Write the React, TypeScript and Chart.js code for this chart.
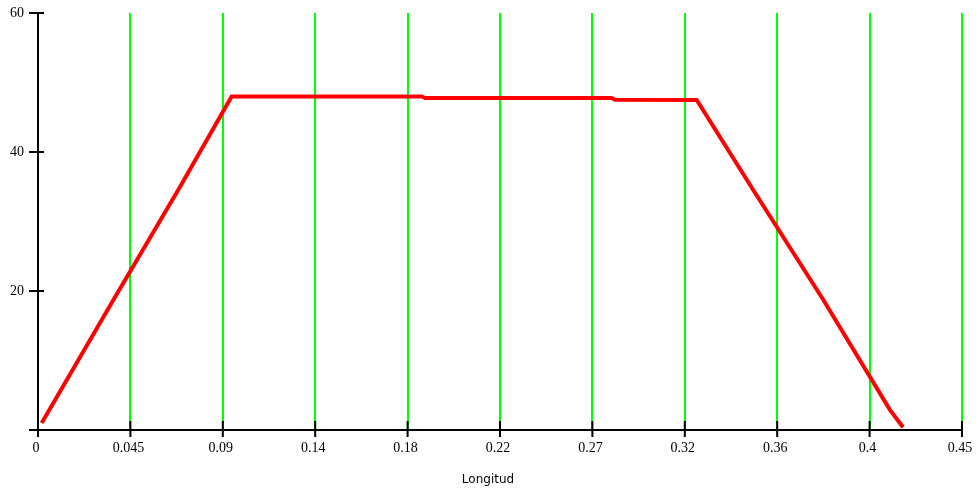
import React, { useEffect, useRef } from "react";
import { Chart, registerables } from "chart.js";

Chart.register(...registerables);

// Data
const xValues = [0.0018, 0.0359, 0.0692, 0.0943, 0.1869, 0.1885, 0.2794, 0.281, 0.3208, 0.3484, 0.3825, 0.4149, 0.4213];
const yValues = [1.0, 18.3, 35.0, 47.98, 47.98, 47.77, 47.77, 47.53, 47.48, 34.5, 18.7, 2.9, 0.4];

const xTicks = [0, 0.045, 0.09, 0.135, 0.18, 0.225, 0.27, 0.315, 0.36, 0.405, 0.45];
const xTickLabels = ["0", "0.045", "0.09", "0.14", "0.18", "0.22", "0.27", "0.32", "0.36", "0.4", "0.45"];
const yTicks = [0, 20, 40, 60];
const yTickLabels = ["", "20", "40", "60"];
const xTitle = "Longitud";

const axesPlugin = {
  id: "mcadAxes",
  beforeDatasetsDraw(chart: any) {
    const { ctx } = chart;
    const xs = chart.scales.x;
    const ys = chart.scales.y;
    const x0 = xs.getPixelForValue(0);
    const y0 = ys.getPixelForValue(0);
    const xEnd = xs.getPixelForValue(xTicks[xTicks.length - 1]);
    const yTop = ys.getPixelForValue(yTicks[yTicks.length - 1]);
    ctx.save();
    ctx.strokeStyle = "#000";
    ctx.lineWidth = 2;
    ctx.beginPath();
    ctx.moveTo(x0 - 9, y0);
    ctx.lineTo(xEnd + 1, y0);
    ctx.moveTo(x0, yTop - 1);
    ctx.lineTo(x0, y0 + 7);
    xTicks.forEach((v) => {
      const px = xs.getPixelForValue(v);
      ctx.moveTo(px, y0 - 9);
      ctx.lineTo(px, y0 + 7);
    });
    yTicks.forEach((v) => {
      if (v === 0) return;
      const py = ys.getPixelForValue(v);
      ctx.moveTo(x0 - 9, py);
      ctx.lineTo(x0 + 6, py);
    });
    ctx.stroke();
    ctx.restore();
  },
  afterDraw(chart: any) {
    const { ctx } = chart;
    ctx.save();
    ctx.fillStyle = "#000";
    ctx.font = "12px 'DejaVu Sans'";
    ctx.textAlign = "center";
    ctx.textBaseline = "middle";
    ctx.fillText(xTitle, chart.width / 2, 480);
    ctx.restore();
  },
};

export default function App() {
  const ref = useRef<HTMLCanvasElement | null>(null);

  useEffect(() => {
    if (!ref.current) return;
    const chart = new Chart(ref.current, {
      type: "scatter",
      data: {
        datasets: [
          {
            data: xValues.map((x, i) => ({ x, y: yValues[i] })),
            showLine: true,
            borderColor: "#ff0000",
            backgroundColor: "#ff0000",
            borderWidth: 4,
            pointRadius: 0,
            tension: 0,
            clip: false as any,
          },
        ],
      },
      options: {
        animation: false,
        responsive: false,
        devicePixelRatio: 1,
        layout: { padding: { left: 0, right: 14, top: 13, bottom: 0 } },
        plugins: {
          legend: { display: false },
          tooltip: { enabled: false },
          title: { display: false },
        },
        scales: {
          x: {
            type: "linear",
            min: 0,
            max: 0.45,
            afterBuildTicks: (scale: any) => {
              scale.ticks = xTicks.map((v) => ({ value: v }));
            },
            afterFit: (scale: any) => {
              scale.height = 66;
              scale.paddingLeft = 0;
              scale.paddingRight = 0;
              scale.paddingTop = 0;
              scale.paddingBottom = 0;
            },
            border: { display: false },
            grid: {
              drawTicks: false,
              lineWidth: 2,
              color: (c: any) => (c.tick && c.tick.value === 0 ? "rgba(0,0,0,0)" : "#00ff00"),
            },
            ticks: {
              autoSkip: false,
              maxRotation: 0,
              padding: 10,
              labelOffset: -2,
              color: "#000",
              font: { family: "Liberation Serif", size: 14 },
              callback: (_v: any, i: number) => xTickLabels[i],
            },
          },
          y: {
            type: "linear",
            min: 0,
            max: 60,
            afterBuildTicks: (scale: any) => {
              scale.ticks = yTicks.map((v) => ({ value: v }));
            },
            afterFit: (scale: any) => {
              scale.width = 38;
              scale.paddingLeft = 0;
              scale.paddingRight = 0;
              scale.paddingTop = 0;
              scale.paddingBottom = 0;
            },
            border: { display: false },
            grid: { display: false, drawTicks: false },
            ticks: {
              autoSkip: false,
              padding: 14,
              color: "#000",
              font: { family: "Liberation Serif", size: 14 },
              callback: (_v: any, i: number) => yTickLabels[i],
            },
          },
        },
      },
      plugins: [axesPlugin],
    });
    return () => chart.destroy();
  }, []);

  return (
    <div style={{ position: "fixed", left: 0, top: 0, width: 976, height: 496, background: "#fff" }}>
      <canvas ref={ref} width={976} height={496} style={{ display: "block" }} />
    </div>
  );
}
